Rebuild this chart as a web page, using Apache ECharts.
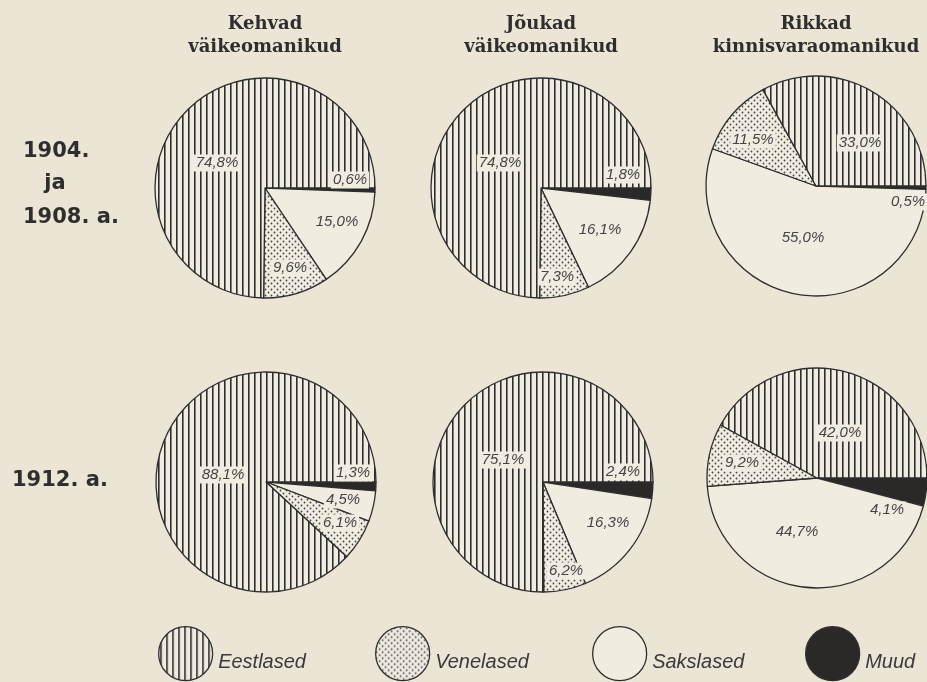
<!DOCTYPE html>
<html>
<head>
<meta charset="utf-8">
<script src="https://cdn.jsdelivr.net/npm/echarts@6/dist/echarts.min.js"></script>
<style>
  html, body { margin: 0; padding: 0; background: #eae5d5; }
  #chart { width: 927px; height: 682px; }
</style>
</head>
<body>
<div id="chart"></div>
<script>
// slice order clockwise from 3 o'clock
const categories = ["Muud", "Sakslased", "Venelased", "Eestlased"];
const legendNames = ["Eestlased", "Venelased", "Sakslased", "Muud"];
const groupTitles = [["Kehvad", "väikeomanikud"], ["Jõukad", "väikeomanikud"], ["Rikkad", "kinnisvaraomanikud"]];

// shares in %, same order as categories
const kehvad1904 = [0.6, 15.0, 9.6, 74.8];
const joukad1904 = [1.8, 16.1, 7.3, 74.8];
const rikkad1904 = [0.5, 55.0, 11.5, 33.0];
const kehvad1912 = [1.3, 4.5, 6.1, 88.1];
const joukad1912 = [2.4, 16.3, 6.2, 75.1];
const rikkad1912 = [4.1, 44.7, 9.2, 42.0];
const pies = [kehvad1904, joukad1904, rikkad1904, kehvad1912, joukad1912, rikkad1912];

// layout
const centers = [[265, 188], [541, 188], [816, 186], [266, 482], [543, 482], [817, 478]];
const radius = 110;
const labelOffsets = [
  [[85, -8], [72, 34], [25, 80], [-48, -25]],
  [[82, -13], [59, 42], [16, 89], [-41, -25]],
  [[92, 16], [-13, 52], [-63, -46], [44, -43]],
  [[87, -9], [77, 18], [74, 41], [-43, -7]],
  [[80, -10], [65, 41], [23, 89], [-40, -22]],
  [[70, 32], [-20, 54], [-75, -15], [23, -45]]
];
const legendLeft = [158, 375, 592, 805];

const PAPER = "#eae5d5";
const LIGHT = "#f0ece0";
const INK = "#2e2e2e";

function hatchPattern() {
  const c = document.createElement("canvas");
  c.width = 6; c.height = 6;
  const g = c.getContext("2d");
  g.fillStyle = LIGHT; g.fillRect(0, 0, 6, 6);
  g.fillStyle = "#2e2e2e"; g.fillRect(2, 0, 1, 6);
  g.fillStyle = "rgba(46,46,46,0.6)"; g.fillRect(3, 0, 1, 6);
  return c;
}
function dotPattern() {
  const c = document.createElement("canvas");
  c.width = 6; c.height = 6;
  const g = c.getContext("2d");
  g.fillStyle = LIGHT; g.fillRect(0, 0, 6, 6);
  g.fillStyle = "#444";
  [[1.5, 1.5], [4.5, 4.5]].forEach(([x, y]) => {
    g.beginPath(); g.arc(x, y, 0.9, 0, Math.PI * 2); g.fill();
  });
  return c;
}

const fills = {
  Eestlased: { image: hatchPattern(), repeat: "repeat" },
  Venelased: { image: dotPattern(), repeat: "repeat" },
  Sakslased: LIGHT,
  Muud: "#2a2927"
};

const fmt = (v) => v.toFixed(1).replace(".", ",") + "%";
const labelFont = "'Liberation Sans', sans-serif";

const series = pies.map((vals, k) => ({
  type: "pie",
  silent: true,
  center: centers[k],
  radius: radius,
  startAngle: 0,
  clockwise: true,
  avoidLabelOverlap: false,
  itemStyle: { borderColor: INK, borderWidth: 1.3 },
  label: {
    show: true,
    position: "inside",
    formatter: (p) => fmt(p.value),
    fontFamily: labelFont,
    fontStyle: "italic",
    fontSize: 15,
    color: "#444",
    backgroundColor: LIGHT,
    padding: [1, 2]
  },
  labelLine: { show: false },
  labelLayout: (p) => {
    const off = labelOffsets[k][p.dataIndex];
    return { x: centers[k][0] + off[0], y: centers[k][1] + off[1], align: "center", verticalAlign: "middle" };
  },
  data: vals.map((v, i) => ({ name: categories[i], value: v, itemStyle: { color: fills[categories[i]] } }))
}));

const graphics = [];
groupTitles.forEach((lines, i) => {
  lines.forEach((t, j) => {
    graphics.push({
      type: "text", x: centers[i][0], y: 24 + j * 23,
      style: { text: t, align: "center", verticalAlign: "middle", fill: "#2e2e2e",
        font: "bold 18px 'DejaVu Serif', serif" }
    });
  });
});
const rowFont = "bold 21px 'DejaVu Sans', sans-serif";
[["1904.", 23, 152, "left"], ["ja", 55, 184, "center"], ["1908. a.", 23, 218, "left"], ["1912. a.", 12, 481, "left"]]
  .forEach(([t, x, y, a]) => {
    graphics.push({ type: "text", x, y, style: { text: t, align: a, verticalAlign: "middle", fill: "#2e2e2e", font: rowFont } });
  });

const chart = echarts.init(document.getElementById("chart"));
chart.setOption({
  backgroundColor: PAPER,
  animation: false,
  legend: legendNames.map((n, i) => ({
    data: [n],
    left: legendLeft[i],
    top: 626,
    padding: 0,
    icon: "circle",
    itemWidth: 55,
    itemHeight: 54,
    selectedMode: false,
    itemStyle: { borderColor: INK, borderWidth: 1.3 },
    formatter: "{t|{name}}",
    textStyle: {
      rich: {
        t: {
          fontFamily: labelFont, fontStyle: "italic", fontSize: 20,
          color: "#3a3a3a", padding: [18, 0, 0, 0]
        }
      }
    }
  })),
  graphic: graphics,
  series: series
});
</script>
</body>
</html>
